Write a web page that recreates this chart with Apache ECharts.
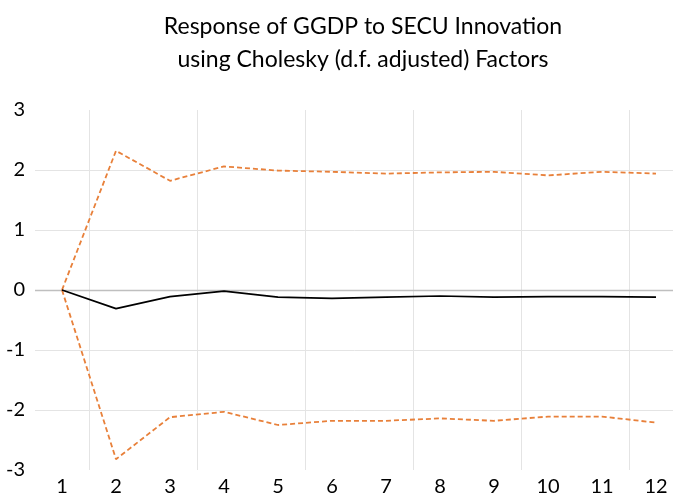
<!DOCTYPE html>
<html>
<head>
<meta charset="utf-8">
<script src="https://cdn.jsdelivr.net/npm/echarts@6/dist/echarts.min.js"></script>
<style>
  html, body { margin: 0; padding: 0; background: #fff; }
  #chart { width: 673px; height: 495px; }
</style>
</head>
<body>
<div id="chart"></div>
<script>
// Impulse response periods
const periods = ['1', '2', '3', '4', '5', '6', '7', '8', '9', '10', '11', '12'];
// Point estimate of the response
const response = [0, -0.31, -0.11, -0.02, -0.12, -0.14, -0.12, -0.10, -0.12, -0.11, -0.11, -0.12];
// Upper and lower confidence bands (±2 S.E.)
const upperBand = [0, 2.32, 1.82, 2.06, 1.99, 1.97, 1.94, 1.96, 1.97, 1.91, 1.97, 1.94];
const lowerBand = [0, -2.82, -2.12, -2.03, -2.25, -2.18, -2.18, -2.14, -2.18, -2.11, -2.11, -2.21];
// Value axis ticks
const yTicks = { min: -3, max: 3, step: 1 };

const FONT = 'Lato, "Open Sans", sans-serif';
const chart = echarts.init(document.getElementById('chart'), null, { renderer: 'canvas' });

chart.setOption({
  animation: false,
  backgroundColor: '#ffffff',
  title: {
    text: 'Response of GGDP to SECU Innovation\nusing Cholesky (d.f. adjusted) Factors',
    left: 358,
    top: 5,
    textAlign: 'center',
    textStyle: {
      fontFamily: FONT,
      fontSize: 23,
      fontWeight: 'normal',
      color: '#000000',
      lineHeight: 33
    }
  },
  // the plot runs slightly past the right edge of the canvas
  grid: { left: 35, width: 648, top: 110, bottom: 25, outerBoundsMode: 'none' },
  xAxis: {
    type: 'category',
    data: periods,
    boundaryGap: true,
    axisLine: { show: false },
    axisTick: { show: false },
    axisLabel: { color: '#000', fontFamily: FONT, fontSize: 20, margin: 7 },
    splitLine: {
      show: true,
      interval: function (index) { return index % 2 === 1; },
      lineStyle: { color: '#e4e4e4', width: 1 }
    }
  },
  yAxis: {
    type: 'value',
    min: yTicks.min,
    max: yTicks.max,
    interval: yTicks.step,
    axisLine: { show: false },
    axisTick: { show: false },
    axisLabel: { color: '#000', fontFamily: FONT, fontSize: 20, margin: 10 },
    splitLine: {
      show: true,
      showMinLine: false,
      showMaxLine: false,
      lineStyle: { color: '#e4e4e4', width: 1 }
    }
  },
  series: [
    {
      name: 'Response',
      type: 'line',
      data: response,
      symbol: 'none',
      lineStyle: { color: '#000000', width: 1.7 },
      z: 5,
      markLine: {
        silent: true,
        symbol: 'none',
        label: { show: false },
        lineStyle: { color: '#bfbfbf', width: 1.3, type: 'solid' },
        data: [{ yAxis: 0 }],
        z: 1
      }
    },
    {
      name: 'Upper',
      type: 'line',
      data: upperBand,
      symbol: 'none',
      lineStyle: { color: '#E8803A', width: 1.8, type: [5, 3] },
      z: 4
    },
    {
      name: 'Lower',
      type: 'line',
      data: lowerBand,
      symbol: 'none',
      lineStyle: { color: '#E8803A', width: 1.8, type: [5, 3] },
      z: 4
    }
  ]
});
</script>
</body>
</html>
